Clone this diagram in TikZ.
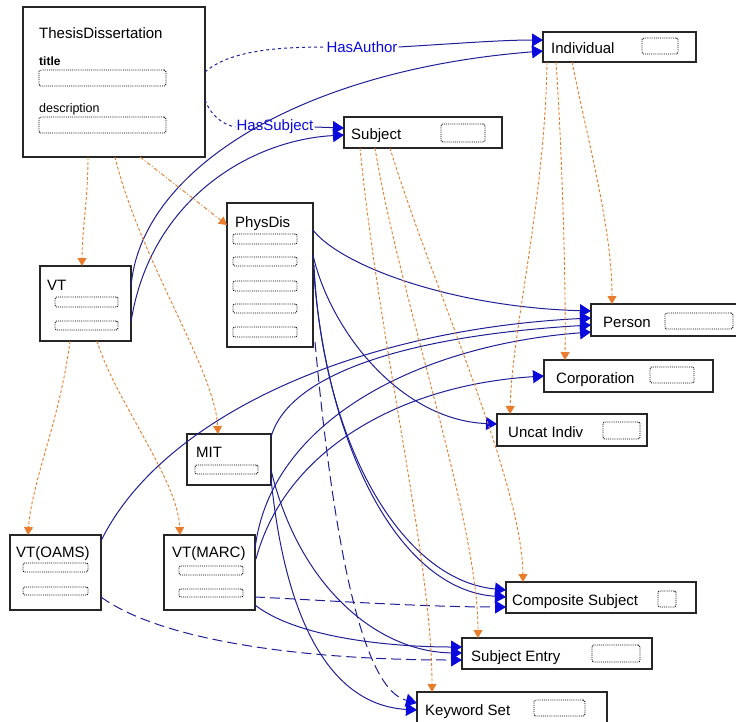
\documentclass[tikz,border=0pt]{standalone}
\usepackage{fontspec}
\setmainfont{Liberation Sans}
\usetikzlibrary{arrows.meta,calc}
\definecolor{navy}{RGB}{30,30,150}
\definecolor{arrblue}{RGB}{10,10,220}
\definecolor{org}{RGB}{232,125,45}
\begin{document}
\begin{tikzpicture}[x=1pt,y=-1pt,
 box/.style={draw=black!85,line width=1.3pt,anchor=north west,inner sep=0pt,outer sep=0pt},
 fld/.style={draw=black,densely dotted,line width=0.9pt,rounded corners=2pt,anchor=north west,inner sep=0pt,outer sep=0pt},
 lbl/.style={anchor=base west,inner sep=0pt,font=\fontsize{15}{15}\selectfont},
 small/.style={anchor=base west,inner sep=0pt,font=\fontsize{12.5}{13}\selectfont},
 assoc/.style={draw=navy,line width=1pt,-{Triangle[length=11pt,width=13pt,color=arrblue]}},
 assocd/.style={assoc,dash pattern=on 10pt off 5pt},
 inh/.style={draw=org,line width=0.9pt,dash pattern=on 3pt off 2pt,-{Triangle[length=8pt,width=9pt,color=org]}},
 rel/.style={text=arrblue,font=\fontsize{15}{15}\selectfont,inner sep=1pt}]
\path[use as bounding box] (0,0) rectangle (736,721);

% ---- boxes ----
\node[box,minimum width=182pt,minimum height=150pt] (td) at (23,7) {};
\node[lbl] (tdT) at (39,38) {ThesisDissertation};
\node[small,font=\bfseries\fontsize{12}{13}\selectfont] (tdA) at (39,65) {title};
\node[fld,minimum width=127pt,minimum height=16pt] (tdF1) at (39,70) {};
\node[small] (tdB) at (39,112) {description};
\node[fld,minimum width=127pt,minimum height=16pt] (tdF2) at (39,117) {};

\node[box,minimum width=153pt,minimum height=30pt] (ind) at (543,32) {};
\node[lbl] (indT) at (551,53) {Individual};
\node[fld,minimum width=36pt,minimum height=16pt] (indF) at (642,38) {};

\node[box,minimum width=158pt,minimum height=31pt] (subj) at (344,117) {};
\node[lbl] (subjT) at (351,139) {Subject};
\node[fld,minimum width=44pt,minimum height=18pt] (subjF) at (441,124) {};

\node[box,minimum width=86pt,minimum height=144pt] (phys) at (227,203) {};
\node[lbl] (physT) at (235,227) {PhysDis};
\node[fld,minimum width=64pt,minimum height=10pt] (physF1) at (233,234) {};
\node[fld,minimum width=64pt,minimum height=9pt] (physF2) at (233,257) {};
\node[fld,minimum width=64pt,minimum height=10pt] (physF3) at (233,281) {};
\node[fld,minimum width=64pt,minimum height=9pt] (physF4) at (233,304) {};
\node[fld,minimum width=64pt,minimum height=10pt] (physF5) at (233,327) {};

\node[box,minimum width=91pt,minimum height=75pt] (vt) at (40,266) {};
\node[lbl] (vtT) at (47,290) {VT};
\node[fld,minimum width=63pt,minimum height=10pt] (vtF1) at (55,297) {};
\node[fld,minimum width=63pt,minimum height=9pt] (vtF2) at (55,321) {};

\node[box,minimum width=150pt,minimum height=32pt] (person) at (591,304) {};
\node[lbl] (personT) at (603,327) {Person};
\node[fld,minimum width=68pt,minimum height=16pt] (personF) at (665,313) {};

\node[box,minimum width=169pt,minimum height=32pt] (corp) at (544,360) {};
\node[lbl] (corpT) at (556,383) {Corporation};
\node[fld,minimum width=44pt,minimum height=16pt] (corpF) at (650,367) {};

\node[box,minimum width=150pt,minimum height=32pt] (uncat) at (497,414) {};
\node[lbl] (uncatT) at (508,437) {Uncat Indiv};
\node[fld,minimum width=37pt,minimum height=17pt] (uncatF) at (603,422) {};

\node[box,minimum width=84pt,minimum height=51pt] (mit) at (187,434) {};
\node[lbl] (mitT) at (196,457) {MIT};
\node[fld,minimum width=63pt,minimum height=9pt] (mitF) at (195,465) {};

\node[box,minimum width=91pt,minimum height=75pt] (oams) at (10,535) {};
\node[lbl] (oamsT) at (16,557) {VT(OAMS)};
\node[fld,minimum width=65pt,minimum height=9pt] (oamsF1) at (23,563) {};
\node[fld,minimum width=65pt,minimum height=8pt] (oamsF2) at (23,587) {};

\node[box,minimum width=91pt,minimum height=75pt] (marc) at (164,535) {};
\node[lbl] (marcT) at (172,557) {VT(MARC)};
\node[fld,minimum width=64pt,minimum height=9pt] (marcF1) at (179,566) {};
\node[fld,minimum width=64pt,minimum height=8pt] (marcF2) at (179,589) {};

\node[box,minimum width=190pt,minimum height=31pt] (comp) at (506,582) {};
\node[lbl] (compT) at (512,605) {Composite Subject};
\node[fld,minimum width=18pt,minimum height=16pt] (compF) at (658,591) {};

\node[box,minimum width=190pt,minimum height=31pt] (sent) at (462,638) {};
\node[lbl] (sentT) at (471,661) {Subject Entry};
\node[fld,minimum width=48pt,minimum height=17pt] (sentF) at (592,645) {};

\node[box,minimum width=190pt,minimum height=40pt] (kws) at (417,692) {};
\node[lbl] (kwsT) at (425,715) {Keyword Set};
\node[fld,minimum width=51pt,minimum height=16pt] (kwsF) at (534,700) {};

% ---- association labels ----
\node[rel] (hasA) at (362,47) {HasAuthor};
\node[rel] (hasS) at (275,127) {HasSubject};

% ---- associations ----
\draw[navy,line width=1pt,dash pattern=on 3pt off 3pt] ($(td.north east)+(0,65)$) .. controls (230,50) and (280,47) .. (hasA.west);
\draw[assoc] (hasA.east) .. controls (450,44) and (500,40) .. ($(ind.north west)+(0,8)$);
\draw[navy,line width=1pt,dash pattern=on 3pt off 3pt] ($(td.north east)+(0,93)$) .. controls (212,118) and (225,125) .. (hasS.west);
\draw[assoc] (hasS.east) -- ($(subj.north west)+(0,11)$);
\draw[assoc] ($(vt.north east)+(0,21)$) .. controls (140,170) and (300,70) .. ($(ind.north west)+(0,19)$);
\draw[assoc] ($(vt.north east)+(0,56)$) .. controls (150,200) and (250,140) .. ($(subj.north west)+(0,18)$);
\draw[assoc] ($(phys.north east)+(0,27)$) .. controls (340,265) and (450,307) .. ($(person.north west)+(0,7)$);
\draw[assoc] ($(phys.north east)+(0,52)$) .. controls (330,330) and (400,420) .. ($(uncat.north west)+(0,10)$);
\draw[assoc] ($(phys.north east)+(1,62)$) .. controls (322,440) and (400,580) .. ($(comp.north west)+(0,8)$);
\draw[assoc] ($(phys.north east)+(1,72)$) .. controls (328,450) and (400,590) .. ($(comp.north west)+(0,15)$);
\draw[assocd] ($(phys.south east)+(2,-5)$) .. controls (335,560) and (365,690) .. ($(kws.north west)+(0,11)$);
\draw[assoc] ($(oams.north east)+(0,6)$) .. controls (160,420) and (350,330) .. ($(person.north west)+(0,14)$);
\draw[assoc] ($(mit.north east)+(0,3)$) .. controls (290,370) and (420,335) .. ($(person.north west)+(0,21)$);
\draw[assoc] ($(marc.north east)+(0,14)$) .. controls (270,420) and (420,345) .. ($(person.north west)+(0,28)$);
\draw[assoc] ($(marc.north east)+(1,24)$) .. controls (285,450) and (400,385) .. ($(corp.north west)+(0,16)$);
\draw[assocd] ($(marc.north east)+(0,62)$) .. controls (320,600) and (420,607) .. ($(comp.north west)+(0,25)$);
\draw[assoc] ($(marc.north east)+(0,70)$) .. controls (300,640) and (400,647) .. ($(sent.north west)+(0,9)$);
\draw[assoc] ($(mit.north east)+(0,36)$) .. controls (300,590) and (380,652) .. ($(sent.north west)+(0,15)$);
\draw[assocd] ($(oams.north east)+(0,62)$) .. controls (160,640) and (300,660) .. ($(sent.north west)+(0,22)$);
\draw[assoc] ($(mit.north east)+(0,44)$) .. controls (285,620) and (330,705) .. ($(kws.north west)+(0,18)$);

% ---- inheritance ----
\draw[inh] ($(td.south west)+(65,0)$) .. controls (88,200) and (82,230) .. ($(vt.north west)+(42,0)$);
\draw[inh,dash pattern=on 4pt off 2pt on 1pt off 2pt] ($(td.south west)+(117,0)$) -- ($(phys.north west)+(0,22)$);
\draw[inh] ($(td.south west)+(92,0)$) .. controls (140,260) and (215,370) .. ($(mit.north west)+(31,0)$);
\draw[inh] ($(vt.south west)+(30,0)$) .. controls (60,420) and (32,480) .. ($(oams.north west)+(18,0)$);
\draw[inh] ($(vt.south west)+(57,0)$) .. controls (115,400) and (178,480) .. ($(marc.north west)+(16,0)$);
\draw[inh] ($(ind.south west)+(29,0)$) .. controls (590,150) and (612,230) .. ($(person.north west)+(21,0)$);
\draw[inh] ($(ind.south west)+(13,0)$) .. controls (562,150) and (566,280) .. ($(corp.north west)+(21,0)$);
\draw[inh] ($(ind.south west)+(4,0)$) .. controls (545,200) and (512,330) .. ($(uncat.north west)+(13,0)$);
\draw[inh] ($(subj.south west)+(46,0)$) .. controls (430,280) and (522,480) .. ($(comp.north west)+(17,0)$);
\draw[inh] ($(subj.south west)+(31,0)$) .. controls (400,300) and (478,520) .. ($(sent.north west)+(16,0)$);
\draw[inh] ($(subj.south west)+(16,0)$) .. controls (380,350) and (432,560) .. ($(kws.north west)+(15,0)$);
\end{tikzpicture}
\end{document}
